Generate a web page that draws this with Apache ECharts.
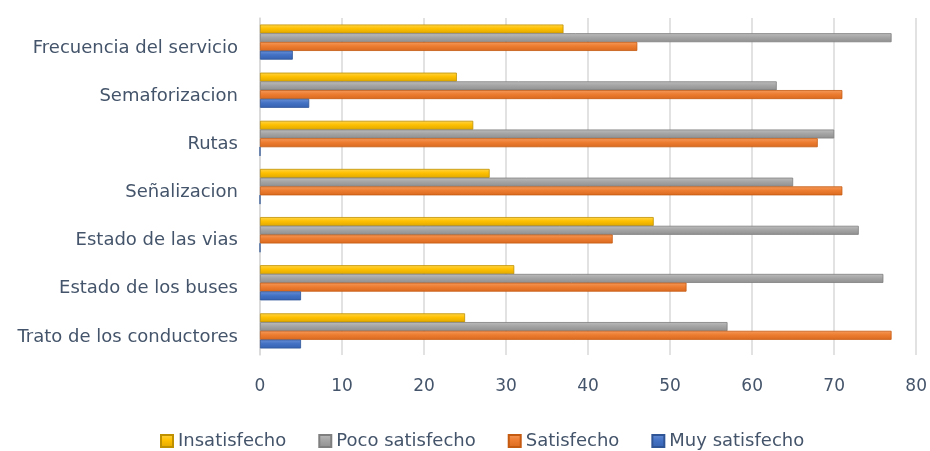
<!DOCTYPE html>
<html><head><meta charset="utf-8">
<script src="https://cdn.jsdelivr.net/npm/echarts@6/dist/echarts.min.js"></script>
<style>html,body{margin:0;padding:0;background:#fff}#c{width:930px;height:451px}</style>
</head><body><div id="c"></div>
<script>
const categories = ["Trato de los conductores","Estado de los buses","Estado de las vias","Señalizacion","Rutas","Semaforizacion","Frecuencia del servicio"];
const insatisfecho = [25, 31, 48, 28, 26, 24, 37];
const pocoSatisfecho = [57, 76, 73, 65, 70, 63, 77];
const satisfecho = [77, 52, 43, 71, 68, 71, 46];
const muySatisfecho = [5, 5, 0, 0, 0, 6, 4];
const xTicks = [0, 10, 20, 30, 40, 50, 60, 70, 80];
const legendNames = ["Insatisfecho","Poco satisfecho","Satisfecho","Muy satisfecho"];

const font = "'DejaVu Sans', sans-serif";
const txt = '#44546A';
function grad(top, mid, bot){
  return new echarts.graphic.LinearGradient(0,0,0,1,[{offset:0,color:top},{offset:0.45,color:mid},{offset:1,color:bot}]);
}
function s(name, data, top, mid, bot, border){
  return {name, type:'bar', data, barWidth:9, barGap:'-3%',
    itemStyle:{color:grad(top, mid, bot), borderColor:border, borderWidth:0.8},
    emphasis:{disabled:true}};
}
const chart = echarts.init(document.getElementById('c'), null, {renderer:'canvas'});
chart.setOption({
  animation:false,
  color:['#FFC000','#A5A5A5','#ED7D31','#4472C4'],
  grid:{left:260, right:8, top:18, bottom:96, containLabel:false},
  legend:{data:legendNames, top:427, left:155, itemWidth:12, itemHeight:12, itemGap:32,
    icon:'rect', textStyle:{fontFamily:font, fontSize:18, color:txt}},
  xAxis:{type:'value', min:xTicks[0], max:xTicks[xTicks.length-1], interval:10,
    axisLabel:{fontFamily:font, fontSize:17, color:txt, margin:23},
    axisLine:{show:false}, axisTick:{show:false},
    splitLine:{lineStyle:{color:'#D9D9D9', width:1.5}}},
  yAxis:{type:'category', data:categories,
    axisLabel:{fontFamily:font, fontSize:18, color:txt, margin:22, verticalAlign:'top', lineHeight:12},
    axisLine:{show:true, lineStyle:{color:'#D9D9D9', width:1.5}}, axisTick:{show:false}},
  series:[
    s('Insatisfecho', insatisfecho, '#FFD54A', '#FFC000', '#E0A800', '#BF9000'),
    s('Poco satisfecho', pocoSatisfecho, '#BDBDBD', '#A5A5A5', '#8F8F8F', '#7F7F7F'),
    s('Satisfecho', satisfecho, '#F49A5C', '#ED7D31', '#D9691E', '#C55A11'),
    s('Muy satisfecho', muySatisfecho, '#6A90D6', '#4472C4', '#3561B0', '#2F5597')
  ]
});
</script></body></html>
